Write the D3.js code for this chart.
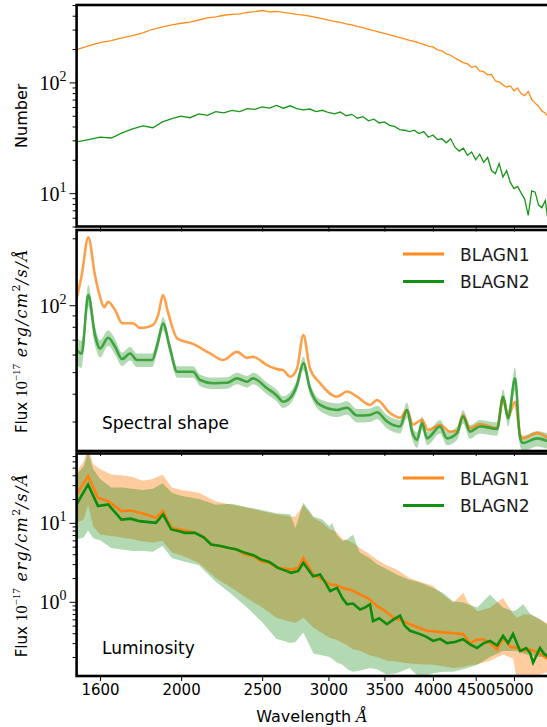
<!DOCTYPE html>
<html>
<head>
<meta charset="utf-8">
<script src="https://cdn.jsdelivr.net/npm/d3@7"></script>
<style>
  body { margin: 0; background: #fff; }
  svg { display: block; }
</style>
</head>
<body>
<svg id="chart" width="547" height="727"></svg>
<script>
// ---- data ----
const seriesNames = ["BLAGN1", "BLAGN2"];
const xTicks = [1600, 2000, 2500, 3000, 3500, 4000, 4500, 5000];

// panel 1: number of spectra contributing per wavelength bin
const countWave = [1500,1550,1600,1650,1700,1750,1800,1850,1900,1950,2000,2050,2100,2150,2200,2250,2300,2350,2400,2450,
  2500,2550,2600,2650,2700,2750,2800,2850,2900,2950,3000,3050,3100,3150,3200,3250,3300,3350,3400,3450,
  3500,3550,3600,3650,3700,3750,3800,3850,3900,3950,4000,4050,4100,4150,4200,4250,4300,4350,4400,4450,
  4500,4550,4600,4650,4700,4750,4800,4850,4900,4950,5000,5050,5100,5150,5200,5250,5300,5350,5400,5450,5500];
const countBlagn1 = [198,214,229,238,252,264,280,302,318,331,342,350,366,382,390,404,412,416,428,436,
  446,434,437,428,420,411,405,396,386,377,365,355,348,338,330,319,312,301,294,285,
  277,268,262,254,247,240,235,227,221,213,209,197,193,181,176,166,158,151,147,137,
  140,127,125,117,118,103,101,95,91,93,84,89,79,76,83,70,65,61,55,53,48];
const countBlagn2 = [29,30.5,32,31.5,35,38,40.5,39,44,47,49.5,48,52,50.5,54.5,53,56,54.5,58,57,
  60,58.5,62,58.5,61.5,58,56.5,57.5,54.5,56,53.5,52,54,50,51.5,47.5,49,45,46.5,43,
  44,41,40,37.5,37,36,37,34.5,36,32,33.5,30.5,31,28.5,31,26,24,25.5,22,23.5,
  20,22.5,19,21,16,15,18.5,14,16,12.5,11,11.5,10,8.8,6.3,10.5,10.2,7.8,7.4,8.6,5.2];

// panel 2: stacked spectral shape
const shapeWave1 = [1500,1521,1549,1578,1600,1618,1636,1668,1700,1752,1786,1846,1877,1903,1929,1978,2067,2166,2244,2333,
  2398,2438,2534,2604,2650,2699,2752,2800,2851,2932,3072,3158,3246,3364,3429,3555,3654,3725,3786,3882,
  3947,4080,4193,4275,4346,4430,4554,4773,4852,4920,5015,5085,5127,5329,5500];
const shapeBlagn1 = [107,136,202,136,109,98,103.5,95,83,83,79,81,90,111,93,71,67,60.7,56.7,61.7,
  58,58.6,53.8,51.6,51,47.7,52,73.4,52,44.6,38.8,40.9,38.8,35.6,37.5,32.7,31.2,33.8,29,30.5,
  27.5,29,27,27.2,32.1,28,29.2,28,38.3,31.6,36.8,26.1,25.2,26.6,25.2];
const shapeWave2 = [1500,1521,1549,1578,1600,1636,1668,1700,1738,1771,1846,1877,1903,1940,1978,2067,2107,2184,2270,2333,
  2398,2438,2534,2604,2648,2699,2752,2800,2851,2932,3072,3158,3246,3364,3429,3525,3654,3725,3777,3829,
  3882,3936,4080,4157,4275,4346,4430,4554,4773,4852,4920,5015,5085,5127,5329,5500];
const shapeBlagn2 = [62.8,60.7,111,73.4,63.9,71.4,65,57.3,60.7,56.7,56.7,68.5,82.8,63.9,50.2,50.2,46.1,44.6,44.8,46.9,
  45.3,46.9,42.3,39.2,36.8,38.2,43.8,54.8,42.3,35.6,33.8,34.6,31.9,32.1,33,30,28.5,33.8,27,24.8,
  29.5,25.2,28.5,25.2,26.6,31.6,27,28.5,27.8,38.8,31,46.9,25.2,24,25.2,24.4];
// fractional half-width of the BLAGN2 shaded band
const shapeBlagn2Err = [0.14,0.14,0.11,0.10,0.09,0.08,0.08,0.07,0.07,0.07,0.07,0.07,0.07,0.06,0.06,0.06,0.06,0.06,0.06,0.06,
  0.06,0.06,0.06,0.06,0.06,0.06,0.06,0.07,0.06,0.06,0.07,0.07,0.07,0.07,0.07,0.07,0.07,0.08,0.07,0.08,
  0.07,0.07,0.07,0.07,0.07,0.07,0.07,0.07,0.07,0.08,0.08,0.12,0.08,0.08,0.08,0.08];

// panel 3: luminosity-scaled medians and spread
const lumWave1 = [1500,1548,1591,1636,1697,1740,1785,1830,1866,1903,1946,2022,2078,2130,2172,2276,2330,2385,2440,2492,
  2550,2611,2707,2760,2800,2876,2932,3014,3070,3122,3200,3273,3350,3429,3500,3584,3670,3756,3850,3936,
  4020,4113,4230,4346,4430,4510,4593,4680,4773,4852,4950,5042,5130,5226,5330,5500];
const lumBlagn1 = [22.9,39,20.7,18.8,14.1,14.3,13.4,12.5,11.5,14.1,8.65,8.0,7.47,6.6,5.33,4.83,4.6,3.98,3.8,3.27,
  3.1,2.69,2.57,2.7,3.6,2.22,2.0,1.66,1.62,1.5,1.4,1.24,1.1,0.88,0.78,0.63,0.58,0.52,0.47,0.43,
  0.42,0.41,0.4,0.39,0.3,0.33,0.336,0.3,0.25,0.35,0.27,0.26,0.24,0.25,0.23,0.187];
const lumWave2 = [1500,1548,1591,1636,1697,1740,1785,1830,1866,1903,1946,1985,2022,2078,2130,2172,2230,2276,2330,2385,
  2440,2492,2550,2611,2660,2707,2760,2800,2876,2932,2975,3014,3072,3120,3158,3210,3273,3320,3364,3392,
  3450,3525,3590,3654,3700,3756,3861,3930,4002,4080,4157,4250,4346,4430,4516,4600,4682,4773,4852,4920,
  4987,5085,5170,5226,5270,5371,5430,5500];
const lumBlagn2 = [17.1,30.6,16.3,17.1,11,11.3,10.5,10.2,10,12.8,8.25,7.9,7.47,7.47,6.5,5.33,5.1,4.83,4.6,4.17,
  3.9,3.44,3.2,2.69,2.5,2.33,2.45,3.12,2.11,2.22,1.75,1.37,1.5,1.1,0.93,0.95,0.8,0.85,0.93,0.57,
  0.62,0.52,0.6,0.67,0.5,0.43,0.39,0.36,0.32,0.34,0.3,0.31,0.336,0.29,0.26,0.3,0.32,0.28,0.37,0.3,
  0.39,0.238,0.26,0.226,0.17,0.26,0.22,0.2];
const lumBandWave = [1500,1530,1548,1570,1600,1650,1700,1750,1800,1850,1900,1950,2000,2100,2200,2300,2400,2500,2600,2700,
  2740,2800,2880,2950,3010,3030,3070,3120,3160,3210,3270,3360,3430,3520,3620,3750,3860,4000,4110,4230,
  4350,4400,4520,4680,4850,4990,5040,5130,5230,5370,5500];
const lumBlagn1Hi = [45,60,90,55,48,41,40,38,34,36,41,28,26,24,18.8,17,15.5,14,12.8,12,
  12,17,11.5,10,8.3,8.2,7.6,6.2,6,5.6,4.8,4.0,3.4,2.9,2.57,2.0,1.8,1.6,1.24,0.97,
  1.3,1.0,0.76,0.84,1.12,0.7,0.63,0.69,0.69,0.6,0.52];
const lumBlagn1Lo = [10,11,17,9,7.1,6.8,6.5,6.2,5.8,5.6,5.9,4.2,3.9,3.1,2.0,1.5,1.1,0.85,0.63,0.56,
  0.54,0.63,0.47,0.4,0.35,0.34,0.33,0.3,0.28,0.25,0.24,0.21,0.2,0.18,0.175,0.165,0.162,0.16,0.153,0.145,
  0.15,0.155,0.162,0.18,0.216,0.19,0.1,0.1,0.11,0.12,0.13];
const lumBlagn2Hi = [41,52,80,48,36,28,28,27,26,27,31.6,24,22,20,17,17.5,15.8,14.5,13.2,12.8,
  8.6,18,12,11,9,10,7,5.9,6.2,7.1,4.2,3.6,3.0,2.6,2.22,1.9,1.75,1.5,1.3,1.02,
  0.98,0.93,0.85,1.24,0.85,0.76,0.8,0.93,0.7,0.6,0.5];
const lumBlagn2Lo = [6.2,6.5,8,6.4,6,4.8,4.6,4.4,4.4,4.3,5.1,3.6,3.3,2.9,1.8,1.24,0.84,0.55,0.34,0.3,
  0.31,0.41,0.22,0.21,0.2,0.19,0.17,0.16,0.14,0.13,0.135,0.145,0.14,0.12,0.125,0.145,0.11,0.125,0.13,0.13,
  0.14,0.145,0.16,0.2,0.238,0.238,0.238,0.22,0.21,0.2,0.2];

// ---- layout ----
const svg = d3.select("#chart");
const sans = "'DejaVu Sans', sans-serif",
      serif = "'Liberation Serif', serif",
      mathSerif = "'DejaVu Serif', serif";
const orange = "#ff7f0e", green = "#008000";

const x = d3.scaleLog().domain([1500, 5500]).range([76.6, 548.6]);
const left = x.range()[0], right = x.range()[1];

const panels = [
  {top: 5,     bottom: 226.5, domain: [5, 500]},
  {top: 230,   bottom: 451,   domain: [22.1, 218]},
  {top: 453.5, bottom: 676,   domain: [0.115, 75.5]}
];

const zip = (xs, ys) => xs.map((w, i) => [w, ys[i]]);

function drawPanel(p, idx, showXLabels) {
  const y = d3.scaleLog().domain(p.domain).range([p.bottom, p.top]);
  const g = svg.append("g");

  g.append("clipPath").attr("id", "clip" + idx)
    .append("rect")
    .attr("x", left).attr("y", p.top)
    .attr("width", right - left).attr("height", p.bottom - p.top);

  const plot = g.append("g").attr("clip-path", `url(#clip${idx})`);

  // ticks on the y axis: minor ones from the scale, decades get labels
  const all = y.ticks();
  const majors = all.filter(v => Math.abs(Math.log10(v) - Math.round(Math.log10(v))) < 1e-9);
  const minors = all.filter(v => !majors.includes(v));

  g.append("g").attr("transform", `translate(${left},0)`)
    .call(d3.axisLeft(y).tickValues(minors).tickSize(4).tickFormat(""))
    .call(a => a.select(".domain").remove());
  const majAxis = g.append("g").attr("transform", `translate(${left},0)`)
    .call(d3.axisLeft(y).tickValues(majors).tickSize(7).tickFormat(""))
    .call(a => a.select(".domain").remove());
  majAxis.selectAll(".tick").each(function(d) {
    const t = d3.select(this).append("text")
      .attr("x", -10).attr("y", 7)
      .attr("text-anchor", "end")
      .attr("fill", "#000")
      .attr("font-family", serif)
      .attr("font-size", 20);
    t.append("tspan").text("10");
    t.append("tspan").attr("dy", -9).attr("font-size", 14)
      .text(Math.round(Math.log10(d)));
  });

  const xa = g.append("g").attr("transform", `translate(0,${p.bottom})`)
    .call(d3.axisBottom(x).tickValues(xTicks).tickSize(5)
      .tickFormat(showXLabels ? d3.format("d") : ""));
  xa.select(".domain").remove();
  xa.selectAll("text").attr("font-family", sans).attr("font-size", 15).attr("fill", "#000");

  g.selectAll(".tick line").attr("stroke", "#000").attr("stroke-width", 1);

  return {g, plot, y};
}

function frame(g, p) {
  g.append("rect")
    .attr("x", left).attr("y", p.top)
    .attr("width", right - left).attr("height", p.bottom - p.top)
    .attr("fill", "none").attr("stroke", "#000").attr("stroke-width", 2.6);
}

function legend(g, top) {
  const cols = ["#ff8a1e", "#139313"];
  seriesNames.forEach((name, i) => {
    const yy = top + i * 27.5;
    g.append("line").attr("x1", 403).attr("x2", 444).attr("y1", yy).attr("y2", yy)
      .attr("stroke", cols[i]).attr("stroke-width", 3);
    g.append("text").attr("x", 460).attr("y", yy + 6.5)
      .attr("font-family", sans).attr("font-size", 17).attr("fill", "#1a1a1a")
      .text(name);
  });
}

// ---- panel 1: counts ----
{
  const p = panels[0];
  const {g, plot, y} = drawPanel(p, 0, false);
  const line = d3.line().x(d => x(d[0])).y(d => y(d[1]));
  plot.append("path").datum(zip(countWave, countBlagn1))
    .attr("d", line).attr("fill", "none").attr("stroke", "#ff8c1a").attr("stroke-width", 1.3);
  plot.append("path").datum(zip(countWave, countBlagn2))
    .attr("d", line).attr("fill", "none").attr("stroke", "#179617").attr("stroke-width", 1.3);
  frame(g, p);
  g.append("text")
    .attr("transform", `translate(27,${(p.top + p.bottom) / 2}) rotate(-90)`)
    .attr("text-anchor", "middle").attr("font-family", sans).attr("font-size", 16)
    .text("Number");
}

function fluxLabel(p) {
  const t = svg.append("text")
    .attr("transform", `translate(27,${(p.top + p.bottom) / 2}) rotate(-90)`)
    .attr("text-anchor", "middle").attr("font-family", sans).attr("font-size", 15)
    .attr("fill", "#000");
  t.append("tspan").text("Flux ");
  t.append("tspan").attr("font-family", serif).attr("font-size", 16).text("10");
  t.append("tspan").attr("font-family", serif).attr("font-size", 11).attr("dy", -7).text("\u221217");
  t.append("tspan").attr("font-family", mathSerif).attr("font-style", "italic").attr("font-size", 16)
    .attr("letter-spacing", 1.5).attr("dy", 7).text(" erg/cm");
  t.append("tspan").attr("font-family", mathSerif).attr("font-size", 11).attr("dy", -7).text("2");
  t.append("tspan").attr("font-family", mathSerif).attr("font-style", "italic").attr("font-size", 16)
    .attr("letter-spacing", 1.5).attr("dy", 7).text("/s/\u00c5");
}

// ---- panel 2: spectral shape ----
{
  const p = panels[1];
  const {g, plot, y} = drawPanel(p, 1, false);
  const band = zip(shapeWave2, shapeBlagn2).map((d, i) => [d[0], d[1], shapeBlagn2Err[i]]);
  plot.append("path").datum(band)
    .attr("d", d3.area().curve(d3.curveMonotoneX)
      .x(d => x(d[0])).y0(d => y(d[1] * (1 - d[2]))).y1(d => y(d[1] * (1 + d[2]))))
    .attr("fill", green).attr("fill-opacity", 0.3);
  const line = d3.line().curve(d3.curveMonotoneX).x(d => x(d[0])).y(d => y(d[1]));
  plot.append("path").datum(zip(shapeWave1, shapeBlagn1))
    .attr("d", line).attr("fill", "none").attr("stroke", orange)
    .attr("stroke-opacity", 0.75).attr("stroke-width", 2.6);
  plot.append("path").datum(zip(shapeWave2, shapeBlagn2))
    .attr("d", line).attr("fill", "none").attr("stroke", "#2a9a2a")
    .attr("stroke-opacity", 0.85).attr("stroke-width", 2.6);
  frame(g, p);
  legend(g, 254);
  g.append("text").attr("x", 102).attr("y", 429)
    .attr("font-family", sans).attr("font-size", 17).text("Spectral shape");
  fluxLabel(p);
}

// ---- panel 3: luminosity ----
{
  const p = panels[2];
  const {g, plot, y} = drawPanel(p, 2, true);
  const area = d3.area().x(d => x(d[0])).y0(d => y(d[1])).y1(d => y(d[2]));
  plot.append("path")
    .datum(lumBandWave.map((w, i) => [w, lumBlagn1Lo[i], lumBlagn1Hi[i]]))
    .attr("d", area).attr("fill", orange).attr("fill-opacity", 0.4);
  plot.append("path")
    .datum(lumBandWave.map((w, i) => [w, lumBlagn2Lo[i], lumBlagn2Hi[i]]))
    .attr("d", area).attr("fill", green).attr("fill-opacity", 0.3);
  const line = d3.line().x(d => x(d[0])).y(d => y(d[1]));
  plot.append("path").datum(zip(lumWave1, lumBlagn1))
    .attr("d", line).attr("fill", "none").attr("stroke", orange).attr("stroke-width", 2.6);
  plot.append("path").datum(zip(lumWave2, lumBlagn2))
    .attr("d", line).attr("fill", "none").attr("stroke", "#0c8c0c").attr("stroke-width", 2.6);
  frame(g, p);
  legend(g, 478);
  g.append("text").attr("x", 102).attr("y", 654)
    .attr("font-family", sans).attr("font-size", 17).text("Luminosity");
  fluxLabel(p);

  const xl = svg.append("text")
    .attr("x", 312).attr("y", 722).attr("text-anchor", "middle")
    .attr("font-family", sans).attr("font-size", 16).attr("fill", "#000");
  xl.append("tspan").text("Wavelength ");
  xl.append("tspan").attr("font-family", mathSerif).attr("font-style", "italic").text("\u00c5");
}
</script>
</body>
</html>
